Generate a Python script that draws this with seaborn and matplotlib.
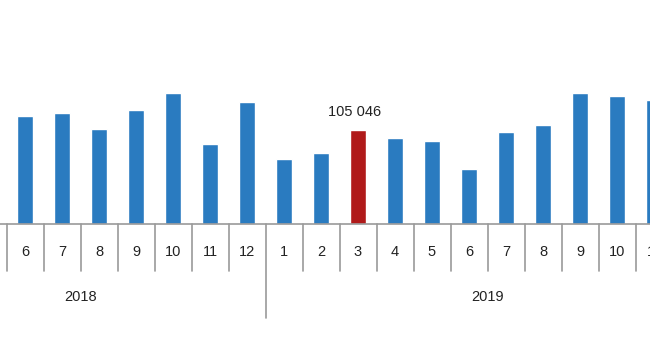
import matplotlib
matplotlib.use("Agg")
import matplotlib.pyplot as plt
import seaborn as sns
import pandas as pd
import numpy as np

# ---- data (visible part of the series) ----
years = [2018] * 7 + [2019] * 11
months = [6, 7, 8, 9, 10, 11, 12, 1, 2, 3, 4, 5, 6, 7, 8, 9, 10, 11]
values = [120700, 124000, 106200, 127400, 146400, 89400, 136300,
          72600, 79300, 105046, 96100, 92800, 61500, 102800, 110600,
          146400, 143000, 138600]
highlight_label = "105 046"
year_labels = ["2018", "2019"]
# month span of each year shown in the full series (2018: Mar-Dec, 2019: Jan-Dec)
year_spans = [(-3, 6), (7, 18)]

df = pd.DataFrame({
    "key": [f"{y}-{m}" for y, m in zip(years, months)],
    "month": months,
    "value": values,
})
df["hl"] = np.where(df["value"] == 105046, "hl", "base")

BLUE = "#2a7bc0"
RED = "#b01a1a"
GRAY = "#9a9a9a"

sns.set_style("white")
plt.rcParams["font.family"] = ["Liberation Sans", "DejaVu Sans"]

W, H = 650, 360
fig = plt.figure(figsize=(W / 100, H / 100), dpi=100)
ax = fig.add_axes([0, 0, 1, 1])

# pixel geometry helpers (value per pixel)
base_px = 224
vpp = 1117.5
def ypx(p):
    return (base_px - p) * vpp

sns.barplot(data=df, x="key", y="value", hue="hl", order=list(df["key"]),
            palette={"base": BLUE, "hl": RED}, dodge=False, width=0.43,
            legend=False, ax=ax, saturation=1)

ax.set_xlim((0 - 25) / 37, (650 - 25) / 37)
ax.set_ylim(ypx(H), ypx(0))
ax.axis("off")

# baseline
ax.axhline(0, color=GRAY, lw=1.2, zorder=3)

# cell separators
for i in range(-1, len(months) + 1):
    xs = i + 0.5
    if xs == 6.5:
        ax.plot([xs, xs], [0, ypx(318)], color=GRAY, lw=1.2, clip_on=False)
    else:
        ax.plot([xs, xs], [0, ypx(271)], color=GRAY, lw=1.2, clip_on=False)

# month labels
for i, m in enumerate(months):
    ax.text(i, ypx(252), str(m), ha="center", va="center",
            fontsize=10.5, color="#222222")

# year labels
for lab, (a, b) in zip(year_labels, year_spans):
    ax.text((a + b) / 2, ypx(297), lab, ha="center", va="center",
            fontsize=10.5, color="#222222")

# highlighted value label
hi = int(np.argmax(df["hl"] == "hl"))
ax.text(hi - 0.1, values[hi] + 18 * vpp, highlight_label, ha="center",
        va="center", fontsize=10.5, color="#222222")

fig.savefig("out.png", dpi=100)
